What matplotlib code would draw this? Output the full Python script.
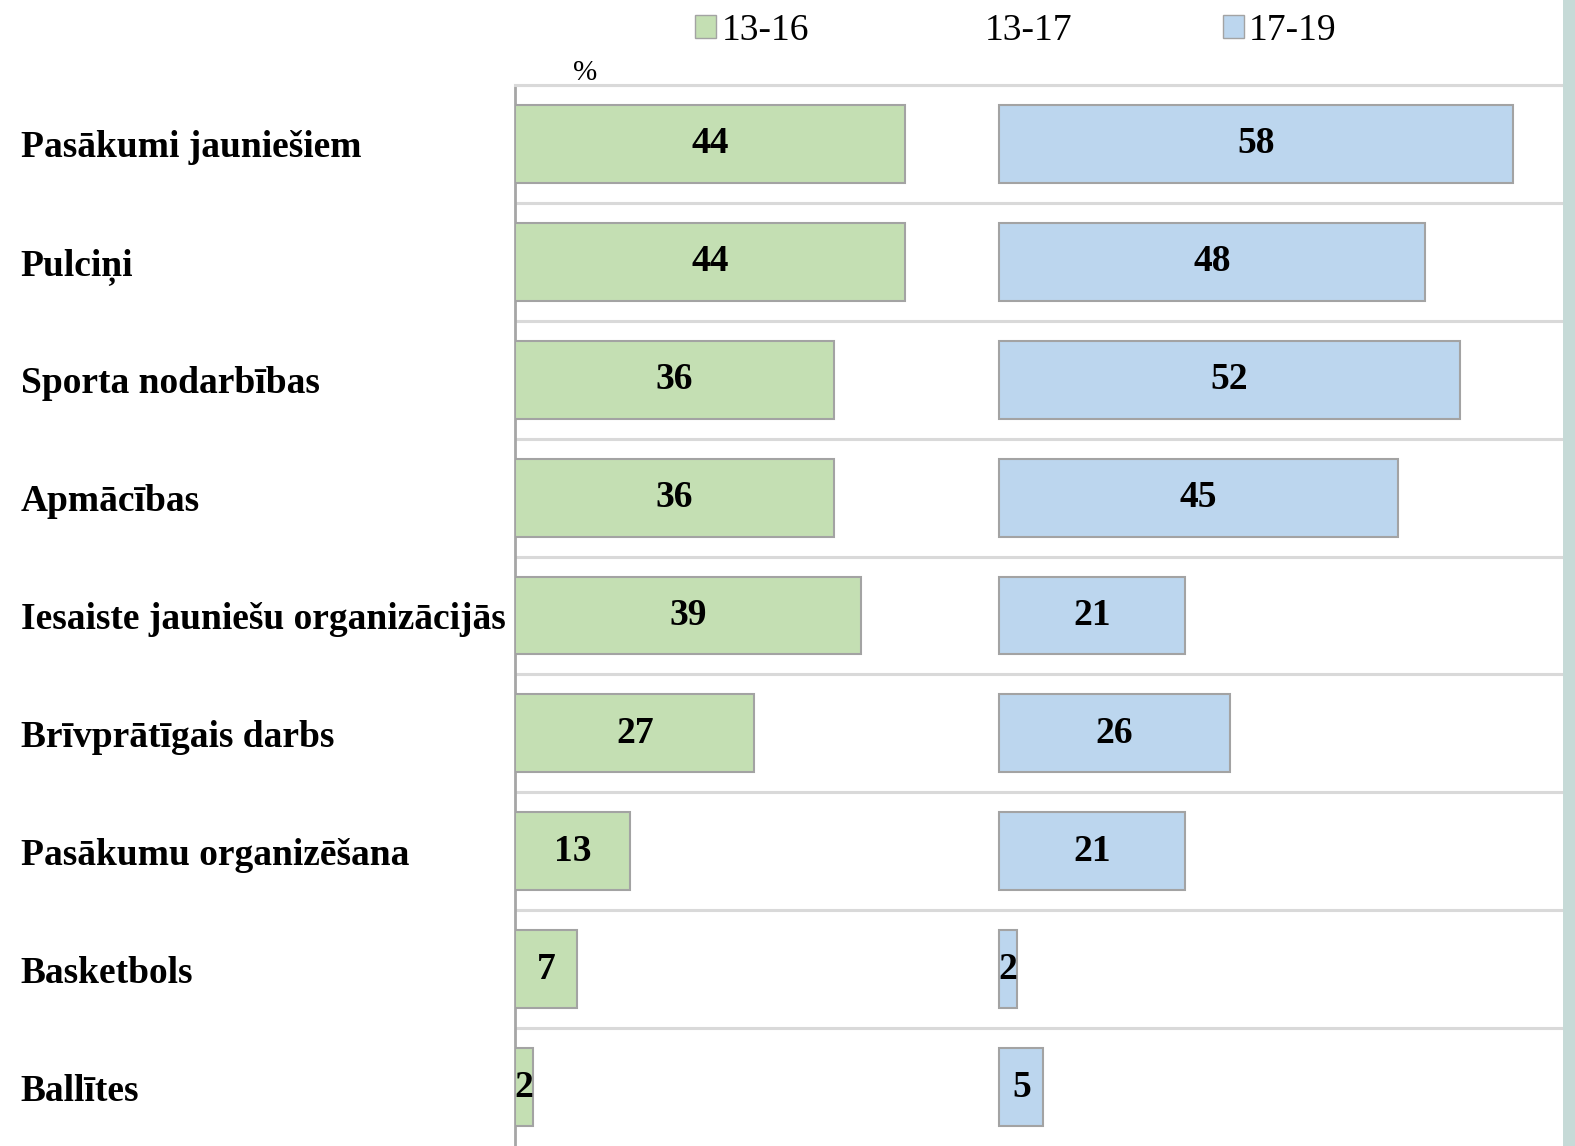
import matplotlib

matplotlib.use("Agg")
import matplotlib.pyplot as plt
from matplotlib.patches import Patch, Rectangle
import numpy as np

categories = [
    "Pasākumi jauniešiem",
    "Pulciņi",
    "Sporta nodarbības",
    "Apmācības",
    "Iesaiste jauniešu organizācijās",
    "Brīvprātīgais darbs",
    "Pasākumu organizēšana",
    "Basketbols",
    "Ballītes",
]
age_13_16 = [44, 44, 36, 36, 39, 27, 13, 7, 2]
age_17_19 = [58, 48, 52, 45, 21, 26, 21, 2, 5]
series_names = ["13-16", "13-17", "17-19"]

GREEN = "#c4dfb3"
BLUE = "#bcd6ee"
EDGE = "#a3a3a3"
BLUE_START = 54.6  # where the second block of bars begins

plt.rcParams["font.family"] = ["Liberation Serif", "DejaVu Serif"]

fig = plt.figure(figsize=(15.75, 11.46), dpi=100)
ax = fig.add_axes([515 / 1575, 0, 1048 / 1575, 1061 / 1146])

y = np.arange(len(categories))
ax.barh(y, age_13_16, height=0.66, color=GREEN, edgecolor=EDGE, linewidth=1.5, zorder=3)
ax.barh(y, age_17_19, left=BLUE_START, height=0.66, color=BLUE, edgecolor=EDGE,
        linewidth=1.5, zorder=3)

for i, (g, b) in enumerate(zip(age_13_16, age_17_19)):
    ax.text(g / 2, i, str(g), ha="center", va="center", fontsize=27,
            fontweight="bold", zorder=4)
    ax.text(BLUE_START + b / 2, i, str(b), ha="center", va="center", fontsize=27,
            fontweight="bold", zorder=4)

ax.set_ylim(len(categories) - 0.5, -0.5)
ax.set_xlim(0, 118.2)
ax.set_yticks(y, categories, fontsize=27, fontweight="bold")
ax.tick_params(axis="y", length=0, pad=356)
for lbl in ax.get_yticklabels():
    lbl.set_ha("left")
ax.set_xticks([])
ax.set_yticks(np.arange(len(categories)) - 0.5, minor=True)
ax.tick_params(axis="y", which="minor", length=0)
ax.grid(axis="y", which="minor", color="#d9d9d9", linewidth=2.2, zorder=0)

for side in ["right", "bottom"]:
    ax.spines[side].set_visible(False)
ax.spines["top"].set_color("#d9d9d9")
ax.spines["top"].set_linewidth(2.2)
ax.spines["left"].set_color("#a6a6a6")
ax.spines["left"].set_linewidth(2)

ax.text(0.067, 1.011, "%", transform=ax.transAxes, ha="center", va="center", fontsize=21)

handles = [
    Patch(facecolor=GREEN, edgecolor=EDGE),
    Patch(facecolor="none", edgecolor="none"),
    Patch(facecolor=BLUE, edgecolor=EDGE),
]
fig.legend(handles, series_names, loc="upper center", bbox_to_anchor=(1016 / 1575, 1.018),
           ncol=3, frameon=False, fontsize=27, handlelength=0.55, handleheight=0.55,
           handletextpad=0.15, columnspacing=4.0)

# light strip on the right edge of the original slide
fig.patches.append(Rectangle((1563 / 1575, 0), 12 / 1575, 1, transform=fig.transFigure,
                             facecolor="#c6dad7", edgecolor="none"))

fig.savefig("out.png", dpi=100)
